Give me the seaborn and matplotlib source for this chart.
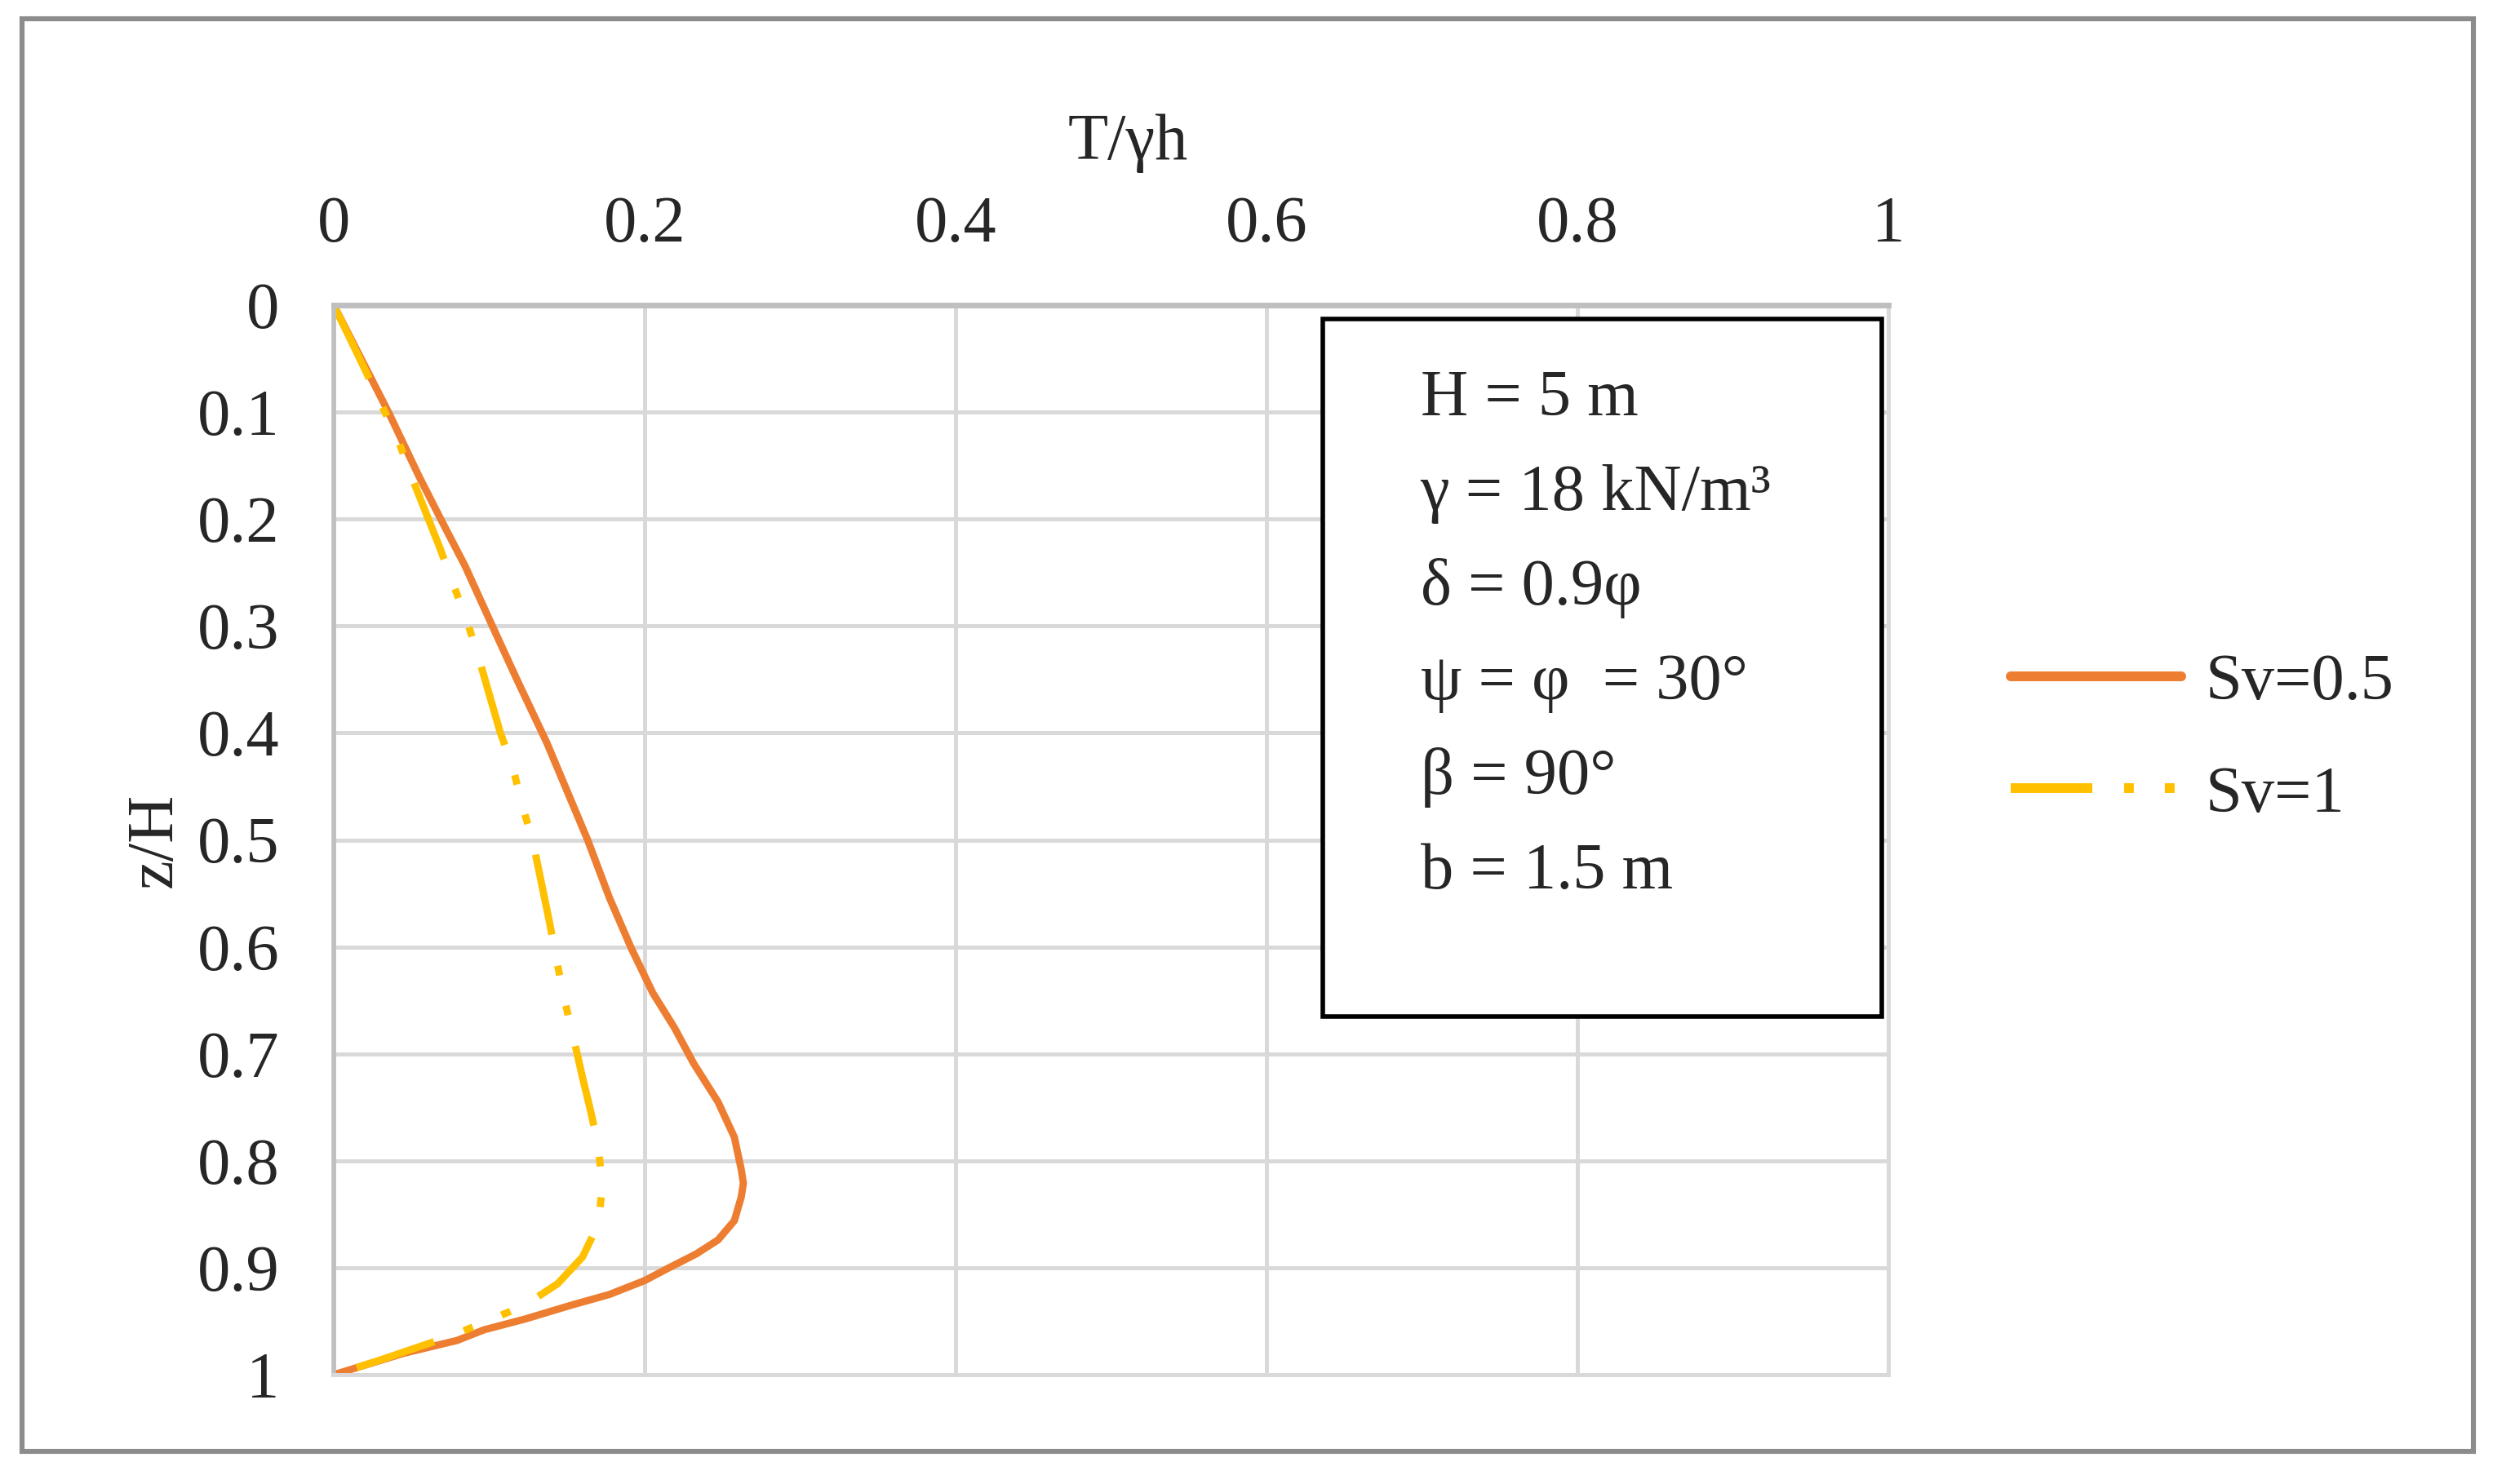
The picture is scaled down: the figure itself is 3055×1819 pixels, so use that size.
import matplotlib
matplotlib.use("Agg")
import matplotlib.pyplot as plt
from matplotlib.patches import Rectangle
import seaborn as sns
import pandas as pd

# ---- data ----
z_sv05 = [0, 0.101, 0.160, 0.200, 0.244, 0.300, 0.350, 0.409, 0.50, 0.554, 0.601,
          0.643, 0.676, 0.709, 0.745, 0.778, 0.808, 0.821, 0.834, 0.856, 0.874, 0.887,
          0.900, 0.912, 0.925, 0.935, 0.948, 0.958, 0.968, 0.98, 1.0]
t_sv05 = [0, 0.0355, 0.0548, 0.0688, 0.0845, 0.102, 0.1178, 0.137, 0.1633, 0.1773, 0.1913,
          0.2052, 0.2193, 0.2315, 0.2472, 0.2577, 0.2621, 0.2635, 0.2621, 0.2577, 0.2472, 0.2333,
          0.2157, 0.200, 0.1773, 0.1528, 0.123, 0.0968, 0.0793, 0.045, 0]

z_sv1 = [0, 0.06, 0.127, 0.165, 0.226, 0.26, 0.294, 0.33, 0.399, 0.432, 0.469, 0.503,
         0.577, 0.608, 0.647, 0.681, 0.722, 0.752, 0.785, 0.823, 0.859, 0.89, 0.915,
         0.935, 0.95, 0.963, 0.987, 1.0]
t_sv1 = [0, 0.020, 0.0416, 0.0513, 0.068, 0.0766, 0.0854, 0.0933, 0.107, 0.1151, 0.1216, 0.1283,
         0.1388, 0.1428, 0.148, 0.1536, 0.1600, 0.1650, 0.1700, 0.1728, 0.1703, 0.160, 0.144,
         0.123, 0.0985, 0.077, 0.0285, 0]

series_labels = ["Sv=0.5", "Sv=1"]
x_ticks = [0, 0.2, 0.4, 0.6, 0.8, 1]
y_ticks = [0, 0.1, 0.2, 0.3, 0.4, 0.5, 0.6, 0.7, 0.8, 0.9, 1]
x_label = "T/γh"
y_label = "z/H"
param_lines = ["H = 5 m", "γ = 18 kN/m³", "δ = 0.9φ", "ψ = φ  = 30°", "β = 90°", "b = 1.5 m"]

# ---- style ----
sns.set_style("white")
plt.rcParams['font.family'] = ['Liberation Serif', 'DejaVu Serif']
plt.rcParams['lines.scale_dashes'] = False
FS = 29

W, H, DPI = 3055, 1819, 200
fig = plt.figure(figsize=(W / DPI, H / DPI), dpi=DPI)
ax = fig.add_axes([409 / W, 1 - 1685 / H, (2314 - 409) / W, (1685 - 374) / H])

df05 = pd.DataFrame({"T": t_sv05, "z": z_sv05})
df1 = pd.DataFrame({"T": t_sv1, "z": z_sv1})

orange = "#ED7D31"
yellow = "#FFC000"
sns.lineplot(data=df05, x="T", y="z", ax=ax, sort=False, estimator=None, orient="y",
             color=orange, lw=3.2, label=series_labels[0], solid_joinstyle="round")
sns.lineplot(data=df1, x="T", y="z", ax=ax, sort=False, estimator=None, orient="y",
             color=yellow, lw=3.2, label=series_labels[1],
             linestyle=(0, (36, 14, 4.3, 13.7, 4.3, 14)))

ax.set_xlim(0, 1)
ax.set_ylim(1, 0)
ax.set_xticks(x_ticks)
ax.set_yticks(y_ticks)
ax.set_xticklabels([f"{v:g}" for v in x_ticks])
ax.set_yticklabels([f"{v:g}" for v in y_ticks])
ax.xaxis.tick_top()
ax.tick_params(axis="x", length=0, pad=22, labelsize=FS)
ax.tick_params(axis="y", length=0, pad=24, labelsize=FS)
ax.set_xlabel("")
ax.set_ylabel("")
ax.grid(True, color="#D9D9D9", lw=1.8)
ax.set_axisbelow(True)
for s in ["right", "bottom"]:
    ax.spines[s].set_color("#D9D9D9")
    ax.spines[s].set_linewidth(1.8)
ax.spines["left"].set_color("#BFBFBF")
ax.spines["left"].set_linewidth(2.0)
ax.spines["top"].set_color("#BFBFBF")
ax.spines["top"].set_linewidth(2.5)

# axis titles
fig.text(1382 / W, 1 - 175 / H, x_label, fontsize=FS, ha="center", va="center")
fig.text(190 / W, 1 - 1030 / H, y_label, fontsize=FS, ha="center", va="center", rotation=90)

# parameter box
ax.add_patch(Rectangle((0.636, 0.013), 0.996 - 0.636, 0.665 - 0.013, fill=True,
                       facecolor="white", edgecolor="black", lw=2.0, zorder=5))
for i, line in enumerate(param_lines):
    ax.text(0.699, 0.103 + 0.0885 * i, line, fontsize=FS, ha="left", va="baseline", zorder=6)

# legend
leg = ax.legend(loc="center left", bbox_to_anchor=(2464 / W, 1 - 906 / H),
                bbox_transform=fig.transFigure, frameon=False, fontsize=FS,
                borderpad=0, borderaxespad=0, handlelength=2.6, handletextpad=0.36,
                labelspacing=0.8)
for l in leg.get_lines():
    l.set_linewidth(4.3)

# outer border
fig.patches.append(Rectangle((27 / W, 1 - 1779 / H), 3004 / W, 1756 / H,
                             transform=fig.transFigure, fill=False,
                             edgecolor="#8C8C8C", lw=2.2))

fig.savefig("out.png", dpi=DPI, facecolor="white")
